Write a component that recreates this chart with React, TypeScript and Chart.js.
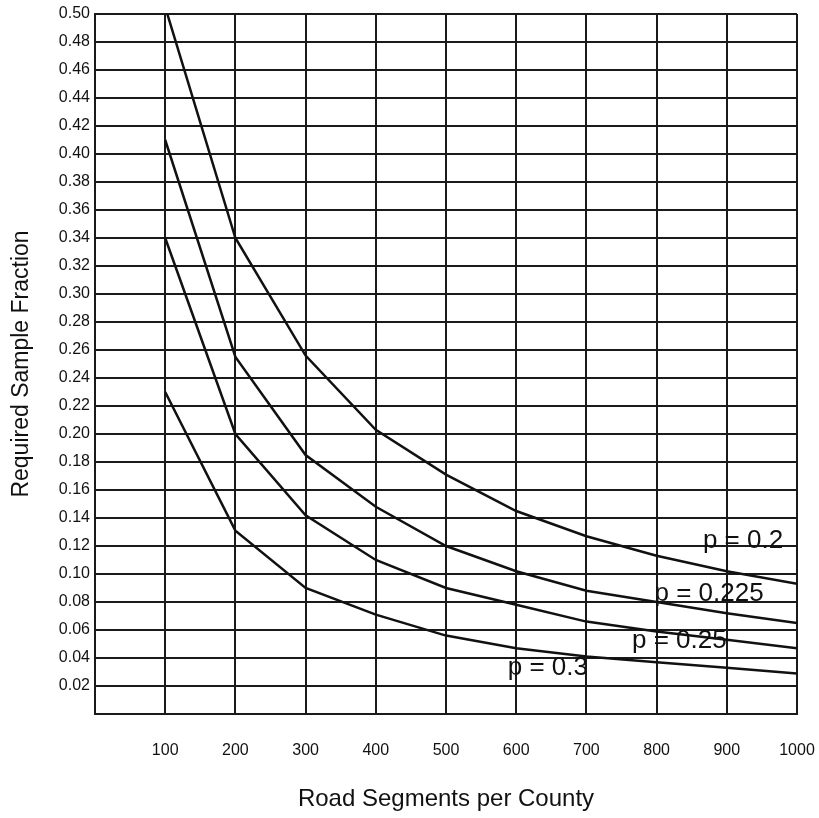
import React, { useEffect, useRef } from 'react';
import { Chart, registerables } from 'chart.js';

Chart.register(...registerables);

// Road segments per county (x categories)
const segments = [100, 200, 300, 400, 500, 600, 700, 800, 900, 1000];

// Required sample fraction for each p value
const p020 = [0.505, 0.34, 0.256, 0.203, 0.171, 0.145, 0.127, 0.113, 0.102, 0.093];
const p0225 = [0.41, 0.255, 0.185, 0.148, 0.12, 0.102, 0.088, 0.08, 0.072, 0.065];
const p025 = [0.34, 0.2, 0.142, 0.11, 0.09, 0.078, 0.066, 0.059, 0.053, 0.047];
const p030 = [0.23, 0.131, 0.09, 0.071, 0.056, 0.047, 0.041, 0.037, 0.033, 0.029];

const seriesNames = ['p = 0.2', 'p = 0.225', 'p = 0.25', 'p = 0.3'];
const seriesValues = [p020, p0225, p025, p030];

// Curve label anchors (data units): left edge x, vertical middle y
const labelAnchorX = [866, 797, 765, 588];
const labelAnchorY = [0.1235, 0.086, 0.0526, 0.0328];

const FONT = '"Liberation Sans", Arial, Helvetica, sans-serif';

const curveLabels = {
  id: 'curveLabels',
  afterDatasetsDraw(chart: any) {
    const { ctx, scales } = chart;
    const xs = scales.x;
    const ys = scales.y;
    ctx.save();
    ctx.font = `26px ${FONT}`;
    ctx.fillStyle = '#111';
    ctx.textAlign = 'left';
    ctx.textBaseline = 'middle';
    seriesNames.forEach((name, i) => {
      ctx.fillText(name, xs.getPixelForValue(labelAnchorX[i]), ys.getPixelForValue(labelAnchorY[i]));
    });
    ctx.restore();
  },
};

export default function App() {
  const canvasRef = useRef<HTMLCanvasElement | null>(null);

  useEffect(() => {
    document.body.style.margin = '0';
    const canvas = canvasRef.current;
    if (!canvas) return;
    Chart.defaults.font.family = FONT;
    Chart.defaults.color = '#111';

    const chart = new Chart(canvas, {
      type: 'line',
      data: {
        datasets: seriesValues.map((vals, i) => ({
          label: seriesNames[i],
          data: segments.map((x, j) => ({ x, y: vals[j] })),
          borderColor: '#111',
          borderWidth: 2.5,
          pointRadius: 0,
          tension: 0,
          fill: false,
        })),
      },
      options: {
        responsive: false,
        animation: false,
        devicePixelRatio: 1,
        layout: { padding: { top: 14, right: 22, left: 0, bottom: 0 } },
        plugins: {
          legend: { display: false },
          tooltip: { enabled: false },
        },
        scales: {
          x: {
            type: 'linear',
            min: 0,
            max: 1000,
            afterFit: (scale: any) => {
              scale.height = 104;
              scale.paddingLeft = 0;
              scale.paddingRight = 0;
            },
            ticks: {
              stepSize: 100,
              maxTicksLimit: 20,
              maxRotation: 0,
              padding: 27,
              font: { size: 16 },
              color: '#111',
              callback: (v: any) => (v === 0 ? '' : String(v)),
            },
            grid: { color: '#1a1a1a', lineWidth: 2, drawTicks: false },
            border: { display: true, color: '#1a1a1a', width: 2 },
            title: {
              display: true,
              text: 'Road Segments per County',
              font: { size: 24 },
              color: '#111',
              padding: { top: 0, bottom: 4 },
            },
          },
          y: {
            type: 'linear',
            min: 0,
            max: 0.5,
            afterFit: (scale: any) => {
              scale.width = 95;
              scale.paddingTop = 0;
              scale.paddingBottom = 0;
            },
            ticks: {
              stepSize: 0.02,
              maxTicksLimit: 30,
              padding: 5,
              font: { size: 16 },
              color: '#111',
              callback: (v: any) => (Math.abs(v) < 1e-9 ? '' : Number(v).toFixed(2)),
            },
            grid: { color: '#1a1a1a', lineWidth: 2, drawTicks: false },
            border: { display: true, color: '#1a1a1a', width: 2 },
            title: {
              display: true,
              text: 'Required Sample Fraction',
              font: { size: 23 },
              color: '#111',
              padding: { top: 8, bottom: 0 },
            },
          },
        },
      },
      plugins: [curveLabels],
    });

    return () => chart.destroy();
  }, []);

  return (
    <div style={{ width: 819, height: 818, position: 'relative' }}>
      <canvas ref={canvasRef} width={819} height={818} style={{ display: 'block' }} />
    </div>
  );
}
